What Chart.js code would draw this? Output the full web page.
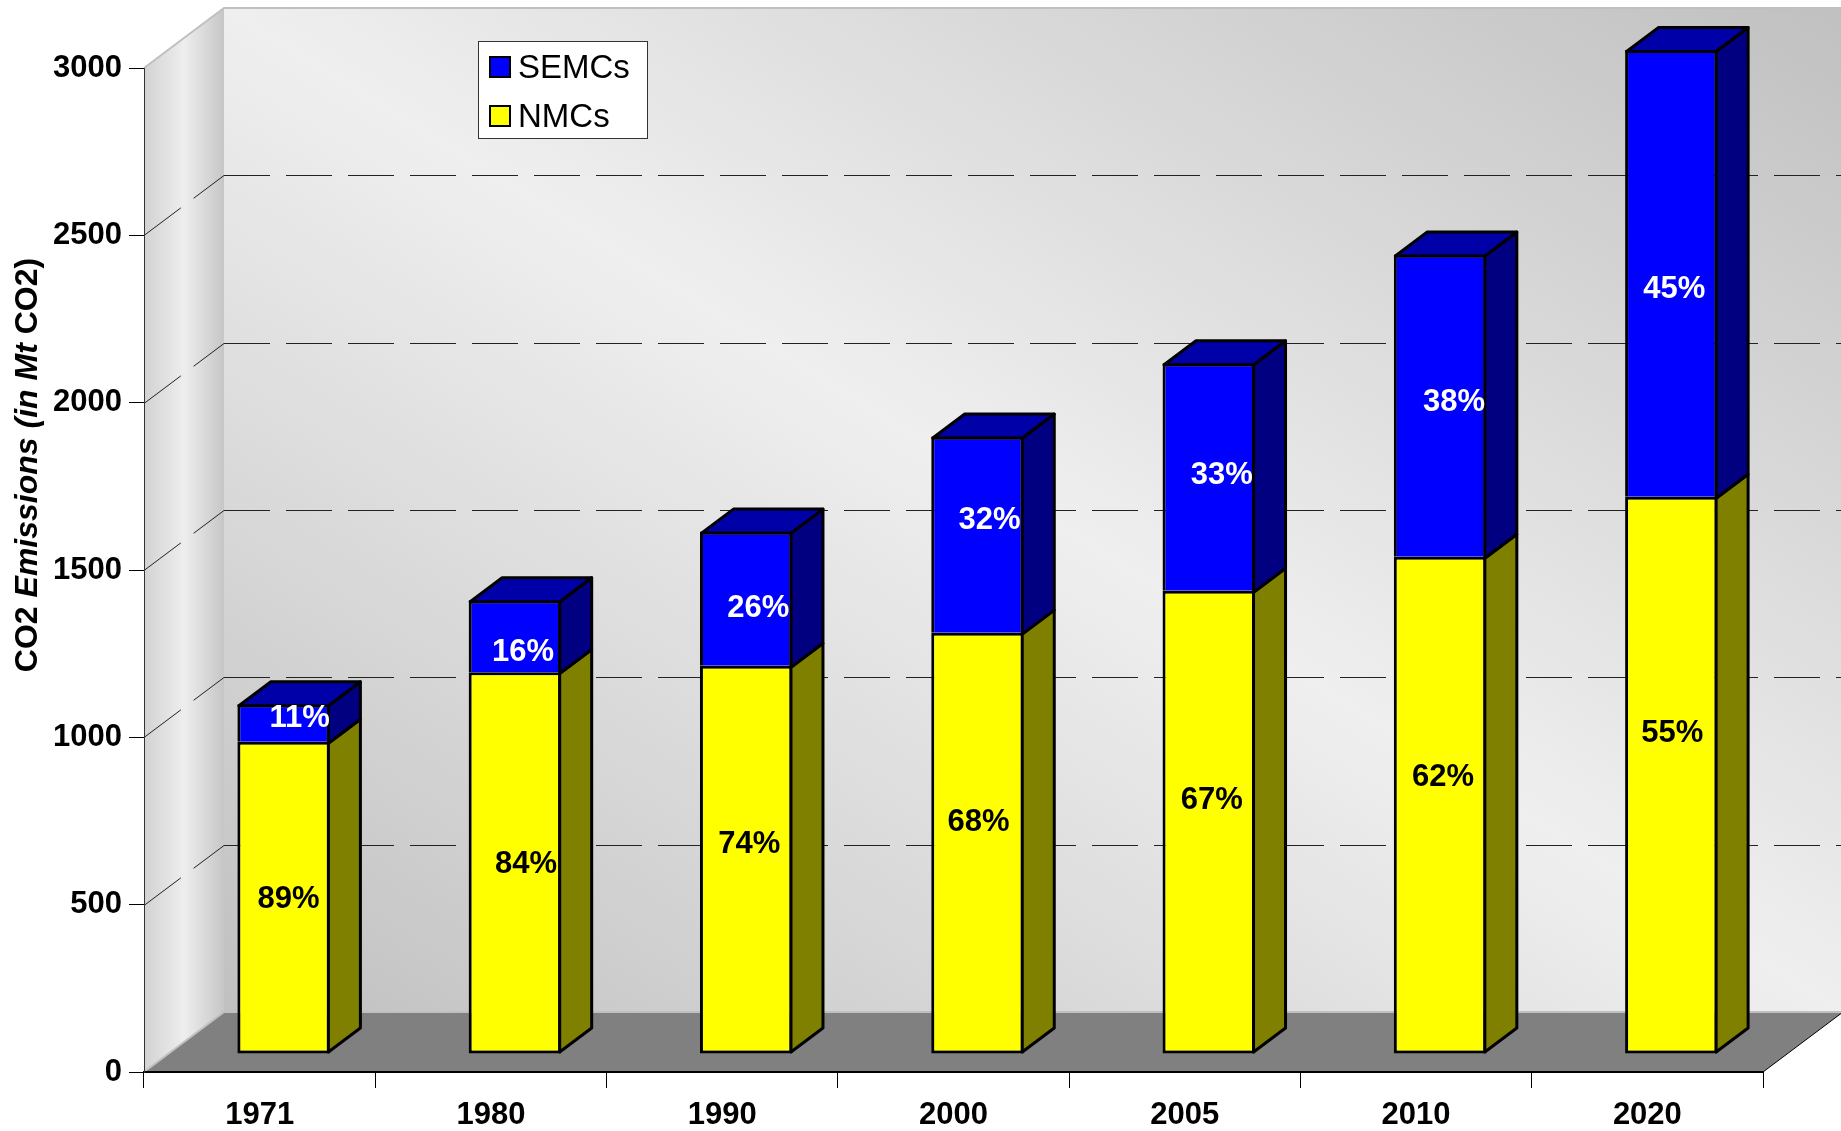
<!DOCTYPE html>
<html>
<head>
<meta charset="utf-8">
<title>CO2 Emissions</title>
<script src="https://cdn.jsdelivr.net/npm/chart.js@4.4.1/dist/chart.umd.min.js"></script>
<style>
  html, body { margin: 0; padding: 0; background: #fff; }
  #wrap { width: 1841px; height: 1131px; position: relative; }
</style>
</head>
<body>
<div id="wrap"><canvas id="co2Chart"></canvas></div>
<script>
// Values (Mt CO2)
const years = ['1971', '1980', '1990', '2000', '2005', '2010', '2020'];
const nmcValues = [933, 1141, 1160, 1259, 1384, 1486, 1665];
const semcValues = [112, 215, 401, 586, 680, 903, 1335];
const nmcShare = ['89%', '84%', '74%', '68%', '67%', '62%', '55%'];
const semcShare = ['11%', '16%', '26%', '32%', '33%', '38%', '45%'];
const yTicks = [0, 500, 1000, 1500, 2000, 2500, 3000];

const FONT = "'Liberation Sans', Arial, sans-serif";
const WALL = { dx: 80, dy: 60 };       // depth of the 3d box
const BAR_FRONT = { dx: 24, dy: 18 };  // bars stand a bit behind the front edge
const BAR_DEPTH = { dx: 32, dy: 24 };

const faceColors = {
    NMCs: { front: '#FFFF00', side: '#808000', top: '#C0C000', text: '#000' },
    SEMCs: { front: '#0000FF', side: '#000080', top: '#0000A8', text: '#fff' }
};
const shareLabels = { NMCs: nmcShare, SEMCs: semcShare };
// the labels in the original were dragged around by hand, [dx, dy] px from the face centre
const labelNudge = {
    NMCs: [[5, 0], [11, 0], [3, -17], [1, -23], [3, -24], [3, -30], [1, -44]],
    SEMCs: [[16, -7], [8, 14], [12, 8], [12, -16], [13, -4], [14, -5], [3, 14]]
};

// Walls, floor and dashed gridlines behind everything
const wallsPlugin = {
    id: 'walls',
    beforeDraw(chart) {
        const { ctx, chartArea: a, scales: { y } } = chart;
        const bl = a.left + WALL.dx, bt = a.top - WALL.dy;
        const br = a.right + WALL.dx, bb = a.bottom - WALL.dy;
        ctx.save();

        // back wall, light band along the top-left / bottom-right diagonal
        const W = br - bl, H = bb - bt, len = Math.hypot(W, H);
        const cx = (bl + br) / 2, cy = (bt + bb) / 2, k = W * H / len;
        const g = ctx.createLinearGradient(cx - k * H / len, cy + k * W / len, cx + k * H / len, cy - k * W / len);
        g.addColorStop(0, '#c0c0c0');
        g.addColorStop(0.5, '#efefef');
        g.addColorStop(1, '#c0c0c0');
        ctx.fillStyle = g;
        ctx.fillRect(bl, bt, W, H);

        // left wall
        const lg = ctx.createLinearGradient(a.left, 0, bl, 0);
        lg.addColorStop(0, '#d2d2d2');
        lg.addColorStop(0.5, '#eeeeee');
        lg.addColorStop(1, '#c6c6c6');
        ctx.fillStyle = lg;
        ctx.beginPath();
        ctx.moveTo(a.left, a.top);
        ctx.lineTo(bl, bt);
        ctx.lineTo(bl, bb);
        ctx.lineTo(a.left, a.bottom);
        ctx.closePath();
        ctx.fill();

        // floor
        ctx.fillStyle = '#808080';
        ctx.beginPath();
        ctx.moveTo(a.left, a.bottom);
        ctx.lineTo(a.right, a.bottom);
        ctx.lineTo(br, bb);
        ctx.lineTo(bl, bb);
        ctx.closePath();
        ctx.fill();

        // light edges of the box
        ctx.strokeStyle = '#c0c0c0';
        ctx.lineWidth = 2;
        ctx.beginPath();
        ctx.moveTo(a.left, a.top);
        ctx.lineTo(bl, bt);
        ctx.lineTo(br, bt);
        ctx.moveTo(a.left, a.bottom);
        ctx.lineTo(bl, bb);
        ctx.lineTo(br, bb);
        ctx.stroke();

        ctx.strokeStyle = '#000';
        ctx.lineWidth = 1;
        ctx.beginPath();
        ctx.moveTo(a.right, a.bottom);
        ctx.lineTo(br, bb);
        ctx.stroke();

        // dashed gridlines on the walls
        ctx.strokeStyle = '#222';
        ctx.lineWidth = 1;
        ctx.setLineDash([46, 16]);
        yTicks.forEach(v => {
            if (v === yTicks[0] || v === yTicks[yTicks.length - 1]) return;
            const py = Math.round(y.getPixelForValue(v)) + 0.5;
            ctx.beginPath();
            ctx.moveTo(a.left, py);
            ctx.lineTo(bl, py - WALL.dy);
            ctx.stroke();
            ctx.beginPath();
            ctx.moveTo(bl, py - WALL.dy);
            ctx.lineTo(br, py - WALL.dy);
            ctx.stroke();
        });
        ctx.restore();
    }
};

// Side and top faces of the bars plus the percentage labels
const bars3dPlugin = {
    id: 'bars3d',
    beforeDatasetsDraw(chart) {
        chart.ctx.save();
        chart.ctx.translate(BAR_FRONT.dx, -BAR_FRONT.dy);
    },
    afterDatasetsDraw(chart) {
        const ctx = chart.ctx;
        const last = chart.data.datasets.length - 1;
        const { dx, dy } = BAR_DEPTH;
        ctx.strokeStyle = '#000';
        ctx.lineWidth = 3;
        ctx.lineJoin = 'round';

        chart.data.datasets.forEach((ds, di) => {
            const col = faceColors[ds.label];
            chart.getDatasetMeta(di).data.forEach(bar => {
                const { x, y, base, width } = bar.getProps(['x', 'y', 'base', 'width'], true);
                const l = x - width / 2 + 1.5, r = x + width / 2 - 1.5;
                const t = y + 1.5, b = di === 0 ? base - 1.5 : base + 1.5;

                ctx.fillStyle = col.side;
                ctx.beginPath();
                ctx.moveTo(r, t);
                ctx.lineTo(r + dx, t - dy);
                ctx.lineTo(r + dx, b - dy);
                ctx.lineTo(r, b);
                ctx.closePath();
                ctx.fill();
                ctx.stroke();

                if (di === last) {
                    ctx.fillStyle = col.top;
                    ctx.beginPath();
                    ctx.moveTo(l, t);
                    ctx.lineTo(l + dx, t - dy);
                    ctx.lineTo(r + dx, t - dy);
                    ctx.lineTo(r, t);
                    ctx.closePath();
                    ctx.fill();
                    ctx.stroke();
                }
            });
        });

        // labels
        ctx.font = `bold 31px ${FONT}`;
        ctx.textAlign = 'center';
        ctx.textBaseline = 'middle';
        chart.data.datasets.forEach((ds, di) => {
            const texts = shareLabels[ds.label];
            const nudge = labelNudge[ds.label];
            ctx.fillStyle = faceColors[ds.label].text;
            chart.getDatasetMeta(di).data.forEach((bar, i) => {
                const { x, y, base } = bar.getProps(['x', 'y', 'base'], true);
                ctx.fillText(texts[i], x + nudge[i][0], (y + base) / 2 + nudge[i][1] + 2);
            });
        });
        ctx.restore();
    }
};

// Legend box and the y axis title (mixed upright / italic)
const overlayPlugin = {
    id: 'overlay',
    afterDraw(chart) {
        const ctx = chart.ctx;
        ctx.save();

        // legend
        ctx.fillStyle = '#fff';
        ctx.fillRect(478, 41, 169, 97);
        ctx.strokeStyle = '#333';
        ctx.lineWidth = 1;
        ctx.strokeRect(478.5, 41.5, 169, 97);
        ctx.font = `33px ${FONT}`;
        ctx.textAlign = 'left';
        ctx.textBaseline = 'alphabetic';
        const items = chart.data.datasets.slice().reverse();
        items.forEach((ds, i) => {
            const top = 56 + i * 49;
            ctx.fillStyle = faceColors[ds.label].front;
            ctx.fillRect(489, top, 22, 22);
            ctx.strokeStyle = '#000';
            ctx.lineWidth = 2;
            ctx.strokeRect(490, top + 1, 20, 20);
            ctx.fillStyle = '#000';
            ctx.fillText(ds.label, 518, top + 22);
        });

        // y axis title
        const parts = [
            ['CO2 ', 'bold'],
            ['Emissions (in Mt ', 'italic bold'],
            ['CO2)', 'bold']
        ];
        ctx.translate(37, 465);
        ctx.rotate(-Math.PI / 2);
        ctx.fillStyle = '#000';
        let total = 0;
        parts.forEach(p => {
            ctx.font = `${p[1]} 32px ${FONT}`;
            total += ctx.measureText(p[0]).width;
        });
        let px = -total / 2;
        parts.forEach(p => {
            ctx.font = `${p[1]} 32px ${FONT}`;
            ctx.fillText(p[0], px, 0);
            px += ctx.measureText(p[0]).width;
        });
        ctx.restore();
    }
};

const tickFont = { family: FONT, size: 31, weight: 'bold' };

new Chart(document.getElementById('co2Chart'), {
    type: 'bar',
    data: {
        labels: years,
        datasets: [
            {
                label: 'NMCs',
                data: nmcValues,
                backgroundColor: faceColors.NMCs.front,
                borderColor: '#000',
                borderWidth: 3,
                borderSkipped: false,
                clip: false
            },
            {
                label: 'SEMCs',
                data: semcValues,
                backgroundColor: faceColors.SEMCs.front,
                borderColor: '#000',
                borderWidth: 3,
                borderSkipped: 'bottom',
                clip: false
            }
        ]
    },
    options: {
        responsive: true,
        maintainAspectRatio: false,
        animation: false,
        layout: { padding: { top: 68, right: 78, left: 0, bottom: 0 } },
        datasets: { bar: { barPercentage: 0.4, categoryPercentage: 1 } },
        plugins: {
            legend: { display: false },
            tooltip: { enabled: false }
        },
        scales: {
            x: {
                stacked: true,
                grid: { offset: true, drawOnChartArea: false, tickLength: 16, color: '#000', lineWidth: 1 },
                border: { color: '#000', width: 2 },
                ticks: { font: tickFont, color: '#000', padding: 9, maxRotation: 0 },
                afterFit: s => { s.height = 59; }
            },
            y: {
                stacked: true,
                min: 0,
                max: 3000,
                afterBuildTicks: s => { s.ticks = yTicks.map(v => ({ value: v })); },
                grid: { drawOnChartArea: false, tickLength: 15, color: '#000' },
                border: { color: '#333', width: 1 },
                ticks: { font: tickFont, color: '#000', padding: 7, callback: v => String(v) },
                afterFit: s => { s.width = 144; }
            }
        }
    },
    plugins: [wallsPlugin, bars3dPlugin, overlayPlugin]
});
</script>
</body>
</html>
